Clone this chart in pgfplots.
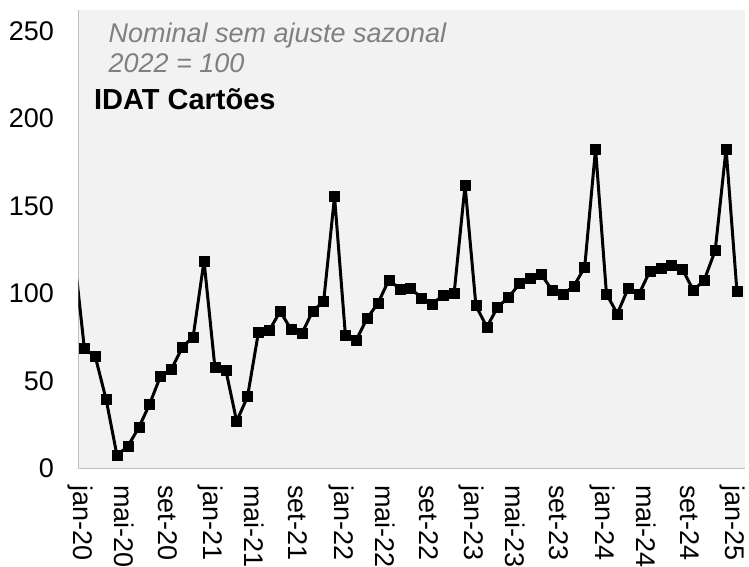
\documentclass[border=0pt]{standalone}
\usepackage{fontspec}
\setmainfont{Liberation Sans}
\usepackage{pgfplots}
\pgfplotsset{compat=1.18}
\definecolor{bg}{HTML}{F2F2F2}
\definecolor{axgray}{HTML}{BFBFBF}
\definecolor{txtgray}{HTML}{808080}
\pgfplotstableread{
x y
-1 126
0 68.5
1 64
2 39.5
3 7.4
4 12.8
5 23.3
6 36.8
7 52.8
8 56.7
9 69.2
10 75.2
11 118.7
12 57.9
13 56.4
14 27
15 41
16 77.7
17 78.9
18 89.8
19 79.5
20 77.2
21 90
22 95.4
23 155.4
24 76.2
25 73.5
26 85.9
27 94.5
28 107.8
29 102.7
30 102.8
31 97.5
32 94.1
33 99.1
34 100.4
35 161.8
36 93.1
37 80.8
38 92.3
39 97.7
40 105.6
41 108.6
42 111
43 101.9
44 99.6
45 104.2
46 115
47 182.7
48 99.8
49 88.4
50 103
51 99.8
52 112.8
53 114.7
54 116
55 113.7
56 101.7
57 107.8
58 124.6
59 182.7
60 101.1
}\idat
\begin{document}
\begin{tikzpicture}
\begin{axis}[
  scale only axis,
  width=666.5pt, height=458.5pt,
  xmin=-0.54, xmax=60.74,
  ymin=0, ymax=262,
  axis x line=bottom, axis y line=left,
  axis line style={-, draw=axgray, line width=1.3pt},
  axis background/.style={fill=bg},
  xtick={0,4,...,60},
  xticklabels={jan-20,mai-20,set-20,jan-21,mai-21,set-21,jan-22,mai-22,set-22,jan-23,mai-23,set-23,jan-24,mai-24,set-24,jan-25},
  ytick={0,50,...,250},
  major tick length=0pt,
  /pgf/number format/assume math mode=true,
  tick label style={font=\fontsize{27}{30}\selectfont, text=black},
  xticklabel style={rotate=-90, anchor=west, yshift=-4pt},
  xticklabel shift=13pt,
  yticklabel shift=21pt,
]
\addplot[black, line width=3pt, line join=round, mark=square*, mark size=5pt, mark options={solid, line width=0.5pt}] table[x=x, y=y] {\idat};
\end{axis}
\node[anchor=base west, text=txtgray, font=\fontsize{27}{30}\selectfont\itshape] at ([xshift=26.5pt, yshift=-33pt]current axis.north west) {Nominal sem ajuste sazonal};
\node[anchor=base west, text=txtgray, font=\fontsize{27}{30}\selectfont\itshape] at ([xshift=26.5pt, yshift=-63pt]current axis.north west) {2022 = 100};
\node[anchor=base west, text=black, font=\fontsize{29}{32}\selectfont\bfseries] at ([xshift=12pt, yshift=-100pt]current axis.north west) {IDAT Cartões};
\pgfresetboundingbox
\path[use as bounding box] ([xshift=-78.5pt, yshift=-98.5pt]current axis.south west) rectangle ([xshift=4pt, yshift=10pt]current axis.north east);
\end{tikzpicture}
\end{document}
